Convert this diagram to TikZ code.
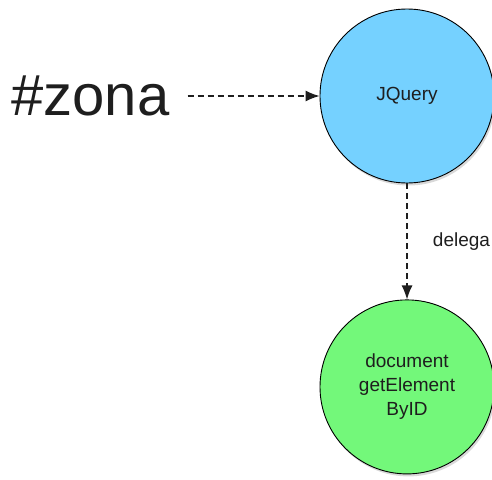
\documentclass[tikz,border=0pt]{standalone}
\usepackage{xcolor}
\usepackage{fontspec}
\setmainfont{Liberation Sans}
\usetikzlibrary{shapes.geometric, arrows.meta, positioning, shadows}
\definecolor{ballblue}{RGB}{117,209,255}
\definecolor{ballgreen}{RGB}{115,248,122}
\definecolor{inkgray}{RGB}{30,30,30}
\tikzstyle{ball} = [circle, minimum size=174pt, inner sep=0pt, align=center, draw=black, line width=0.9pt, text=inkgray, font=\fontsize{19}{24}\selectfont, drop shadow={shadow xshift=1.5pt, shadow yshift=-2.5pt, opacity=0.3}]
\tikzstyle{arrow} = [line width=1.3pt, draw=inkgray, dash pattern=on 6pt off 4pt, -{Latex[length=14pt, width=11pt]}]

\begin{document}
\begin{tikzpicture}[x=1pt, y=-1pt]
    \useasboundingbox (0,0) rectangle (492,479);
    % Nodes
    \node[ball, fill=ballblue] (jquery) at (407,96) {JQuery};
    \node[ball, fill=ballgreen, below=116pt of jquery] (dom) {document\\getElement\\ByID};
    \node[left=150pt of jquery, inner sep=0pt, text=inkgray, font=\fontsize{58}{60}\selectfont] (zona) {\#zona};

    % Flow
    \draw[arrow, shorten <=18pt] (zona) -- (jquery);
    \draw[arrow] (jquery) -- node[right=22pt, text=inkgray, font=\fontsize{19}{24}\selectfont] {delega} (dom);
\end{tikzpicture}
\end{document}
